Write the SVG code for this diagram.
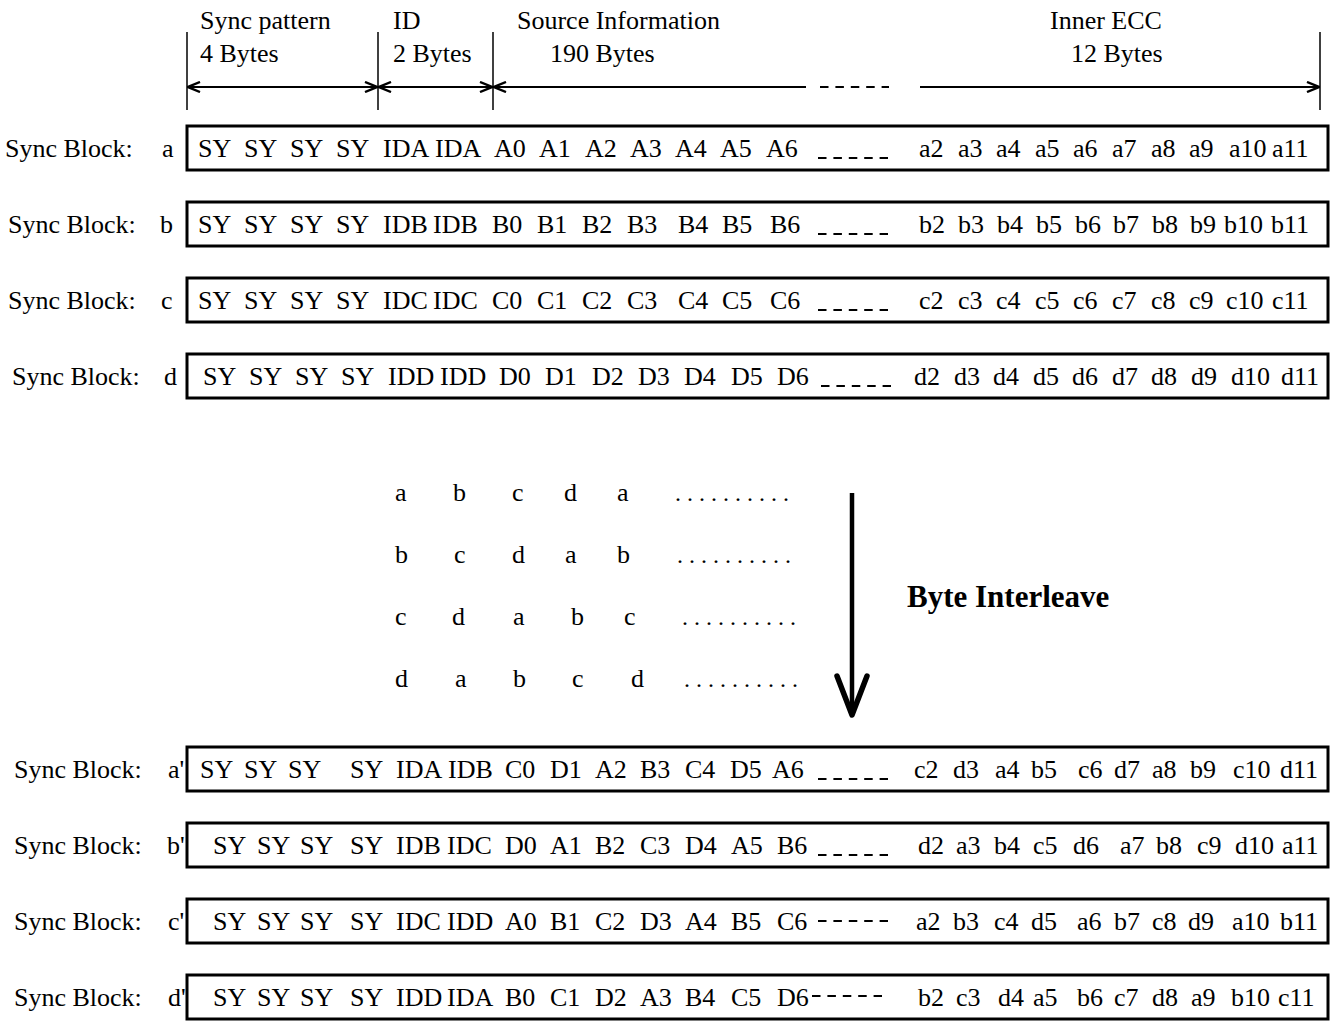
<svg xmlns="http://www.w3.org/2000/svg" width="1334" height="1021" viewBox="0 0 1334 1021">
<style>
.t{font-family:"Liberation Serif","Times New Roman",serif;font-size:26px;fill:#000}
.b{font-family:"Liberation Serif","Times New Roman",serif;font-size:31px;font-weight:bold;fill:#000}
.box{fill:#fff;stroke:#000;stroke-width:3}
.ln{stroke:#000;stroke-width:1.8;fill:none}
.tick{stroke:#000;stroke-width:1.5;fill:none}
.dsh{stroke:#000;stroke-width:2;fill:none;stroke-dasharray:8.5 6.9}
.dot{font-size:24px}
</style>
<defs>
<marker id="ah" viewBox="0 0 14 12" refX="13" refY="6" markerWidth="14" markerHeight="12" markerUnits="userSpaceOnUse" orient="auto-start-reverse">
<path d="M1,1 L13,6 L1,11" fill="none" stroke="#000" stroke-width="2.4"/>
</marker>
</defs>
<rect width="1334" height="1021" fill="#fff"/>

<g id="header">
<text class="t" x="200" y="29">Sync pattern</text>
<text class="t" x="200" y="62">4 Bytes</text>
<text class="t" x="393" y="29">ID</text>
<text class="t" x="393" y="62">2 Bytes</text>
<text class="t" x="517" y="29">Source Information</text>
<text class="t" x="550" y="62">190 Bytes</text>
<text class="t" x="1050" y="29">Inner ECC</text>
<text class="t" x="1071" y="62">12 Bytes</text>
</g>

<g id="connectors">
<line class="tick" x1="187" y1="32" x2="187" y2="110"/>
<line class="tick" x1="378" y1="32" x2="378" y2="110"/>
<line class="tick" x1="493" y1="32" x2="493" y2="110"/>
<line class="tick" x1="1320" y1="32" x2="1320" y2="110"/>
<line class="ln" x1="188" y1="87" x2="377" y2="87" marker-start="url(#ah)" marker-end="url(#ah)"/>
<line class="ln" x1="379" y1="87" x2="492" y2="87" marker-start="url(#ah)" marker-end="url(#ah)"/>
<line class="ln" x1="494" y1="87" x2="806" y2="87" marker-start="url(#ah)"/>
<line class="dsh" x1="820" y1="87" x2="889" y2="87"/>
<line class="ln" x1="920" y1="87" x2="1319" y2="87" marker-end="url(#ah)"/>
<line x1="852" y1="493" x2="852" y2="712" stroke="#000" stroke-width="4.5"/>
<polyline points="837,676 852,715 867,676" fill="none" stroke="#000" stroke-width="5.5" stroke-linejoin="round" stroke-linecap="round"/>
</g>

<g id="block-a">
<rect class="box" x="187" y="126" width="1141" height="44"/>
<text class="t" x="5" y="156.5">Sync Block:</text>
<text class="t" x="162" y="156.5">a</text>
<text class="t" y="156.5"><tspan x="198">SY</tspan><tspan x="244">SY</tspan><tspan x="290">SY</tspan><tspan x="336">SY</tspan><tspan x="383">IDA</tspan><tspan x="435">IDA</tspan><tspan x="494">A0</tspan><tspan x="539">A1</tspan><tspan x="585">A2</tspan><tspan x="630">A3</tspan><tspan x="675">A4</tspan><tspan x="720">A5</tspan><tspan x="766">A6</tspan><tspan x="919">a2</tspan><tspan x="958">a3</tspan><tspan x="996">a4</tspan><tspan x="1035">a5</tspan><tspan x="1073">a6</tspan><tspan x="1112">a7</tspan><tspan x="1151">a8</tspan><tspan x="1189">a9</tspan><tspan x="1229">a10</tspan><tspan x="1272">a11</tspan></text>
<line class="dsh" x1="818" y1="158" x2="888" y2="158"/>
</g>

<g id="block-b">
<rect class="box" x="187" y="202" width="1141" height="44"/>
<text class="t" x="8" y="232.5">Sync Block:</text>
<text class="t" x="160" y="232.5">b</text>
<text class="t" y="232.5"><tspan x="198">SY</tspan><tspan x="244">SY</tspan><tspan x="290">SY</tspan><tspan x="336">SY</tspan><tspan x="383">IDB</tspan><tspan x="433">IDB</tspan><tspan x="492">B0</tspan><tspan x="537">B1</tspan><tspan x="582">B2</tspan><tspan x="627">B3</tspan><tspan x="678">B4</tspan><tspan x="722">B5</tspan><tspan x="770">B6</tspan><tspan x="919">b2</tspan><tspan x="958">b3</tspan><tspan x="997">b4</tspan><tspan x="1036">b5</tspan><tspan x="1075">b6</tspan><tspan x="1113">b7</tspan><tspan x="1152">b8</tspan><tspan x="1190">b9</tspan><tspan x="1224">b10</tspan><tspan x="1271">b11</tspan></text>
<line class="dsh" x1="818" y1="234" x2="888" y2="234"/>
</g>

<g id="block-c">
<rect class="box" x="187" y="278" width="1141" height="44"/>
<text class="t" x="8" y="308.5">Sync Block:</text>
<text class="t" x="161" y="308.5">c</text>
<text class="t" y="308.5"><tspan x="198">SY</tspan><tspan x="244">SY</tspan><tspan x="290">SY</tspan><tspan x="336">SY</tspan><tspan x="383">IDC</tspan><tspan x="433">IDC</tspan><tspan x="492">C0</tspan><tspan x="537">C1</tspan><tspan x="582">C2</tspan><tspan x="627">C3</tspan><tspan x="678">C4</tspan><tspan x="722">C5</tspan><tspan x="770">C6</tspan><tspan x="919">c2</tspan><tspan x="958">c3</tspan><tspan x="996">c4</tspan><tspan x="1035">c5</tspan><tspan x="1073">c6</tspan><tspan x="1112">c7</tspan><tspan x="1151">c8</tspan><tspan x="1189">c9</tspan><tspan x="1226">c10</tspan><tspan x="1272">c11</tspan></text>
<line class="dsh" x1="818" y1="310" x2="888" y2="310"/>
</g>

<g id="block-d">
<rect class="box" x="187" y="354" width="1141" height="44"/>
<text class="t" x="12" y="384.5">Sync Block:</text>
<text class="t" x="164" y="384.5">d</text>
<text class="t" y="384.5"><tspan x="203">SY</tspan><tspan x="249">SY</tspan><tspan x="295">SY</tspan><tspan x="341">SY</tspan><tspan x="388">IDD</tspan><tspan x="440">IDD</tspan><tspan x="499">D0</tspan><tspan x="545">D1</tspan><tspan x="592">D2</tspan><tspan x="638">D3</tspan><tspan x="684">D4</tspan><tspan x="731">D5</tspan><tspan x="777">D6</tspan><tspan x="914">d2</tspan><tspan x="954">d3</tspan><tspan x="993">d4</tspan><tspan x="1033">d5</tspan><tspan x="1072">d6</tspan><tspan x="1112">d7</tspan><tspan x="1151">d8</tspan><tspan x="1191">d9</tspan><tspan x="1231">d10</tspan><tspan x="1281">d11</tspan></text>
<line class="dsh" x1="821" y1="386" x2="891" y2="386"/>
</g>

<g id="interleave-pattern">
<text class="t" y="501"><tspan x="395">a</tspan><tspan x="453">b</tspan><tspan x="512">c</tspan><tspan x="564">d</tspan><tspan x="617">a</tspan></text>
<text class="t" y="563"><tspan x="395">b</tspan><tspan x="454">c</tspan><tspan x="512">d</tspan><tspan x="565">a</tspan><tspan x="617">b</tspan></text>
<text class="t" y="625"><tspan x="395">c</tspan><tspan x="452">d</tspan><tspan x="513">a</tspan><tspan x="571">b</tspan><tspan x="624">c</tspan></text>
<text class="t" y="687"><tspan x="395">d</tspan><tspan x="455">a</tspan><tspan x="513">b</tspan><tspan x="572">c</tspan><tspan x="631">d</tspan></text>
<text class="t dot" x="675" y="501">. . . . . . . . . .</text>
<text class="t dot" x="677" y="563">. . . . . . . . . .</text>
<text class="t dot" x="682" y="625">. . . . . . . . . .</text>
<text class="t dot" x="684" y="687">. . . . . . . . . .</text>
</g>

<g id="label-byte-interleave">
<text class="b" x="907" y="607">Byte Interleave</text>
</g>

<g id="block-a-prime">
<rect class="box" x="187" y="747" width="1141" height="44"/>
<text class="t" x="14" y="777.5">Sync Block:</text>
<text class="t" x="168" y="777.5">a'</text>
<text class="t" y="777.5"><tspan x="200">SY</tspan><tspan x="244">SY</tspan><tspan x="288">SY</tspan><tspan x="350">SY</tspan><tspan x="396">IDA</tspan><tspan x="448">IDB</tspan><tspan x="505">C0</tspan><tspan x="550">D1</tspan><tspan x="595">A2</tspan><tspan x="640">B3</tspan><tspan x="685">C4</tspan><tspan x="730">D5</tspan><tspan x="772">A6</tspan><tspan x="914">c2</tspan><tspan x="953">d3</tspan><tspan x="995">a4</tspan><tspan x="1031">b5</tspan><tspan x="1078">c6</tspan><tspan x="1114">d7</tspan><tspan x="1152">a8</tspan><tspan x="1190">b9</tspan><tspan x="1233">c10</tspan><tspan x="1280">d11</tspan></text>
<line class="dsh" x1="818" y1="779" x2="888" y2="779"/>
</g>

<g id="block-b-prime">
<rect class="box" x="187" y="823" width="1141" height="44"/>
<text class="t" x="14" y="853.5">Sync Block:</text>
<text class="t" x="167" y="853.5">b'</text>
<text class="t" y="853.5"><tspan x="213">SY</tspan><tspan x="257">SY</tspan><tspan x="300">SY</tspan><tspan x="350">SY</tspan><tspan x="396">IDB</tspan><tspan x="447">IDC</tspan><tspan x="505">D0</tspan><tspan x="550">A1</tspan><tspan x="595">B2</tspan><tspan x="640">C3</tspan><tspan x="685">D4</tspan><tspan x="731">A5</tspan><tspan x="777">B6</tspan><tspan x="918">d2</tspan><tspan x="956">a3</tspan><tspan x="994">b4</tspan><tspan x="1033">c5</tspan><tspan x="1073">d6</tspan><tspan x="1120">a7</tspan><tspan x="1156">b8</tspan><tspan x="1197">c9</tspan><tspan x="1235">d10</tspan><tspan x="1282">a11</tspan></text>
<line class="dsh" x1="818" y1="855" x2="888" y2="855"/>
</g>

<g id="block-c-prime">
<rect class="box" x="187" y="899" width="1141" height="44"/>
<text class="t" x="14" y="929.5">Sync Block:</text>
<text class="t" x="168" y="929.5">c'</text>
<text class="t" y="929.5"><tspan x="213">SY</tspan><tspan x="257">SY</tspan><tspan x="300">SY</tspan><tspan x="350">SY</tspan><tspan x="396">IDC</tspan><tspan x="447">IDD</tspan><tspan x="505">A0</tspan><tspan x="550">B1</tspan><tspan x="595">C2</tspan><tspan x="640">D3</tspan><tspan x="685">A4</tspan><tspan x="731">B5</tspan><tspan x="777">C6</tspan><tspan x="916">a2</tspan><tspan x="953">b3</tspan><tspan x="994">c4</tspan><tspan x="1031">d5</tspan><tspan x="1077">a6</tspan><tspan x="1114">b7</tspan><tspan x="1152">c8</tspan><tspan x="1188">d9</tspan><tspan x="1232">a10</tspan><tspan x="1280">b11</tspan></text>
<line class="dsh" x1="818" y1="921" x2="888" y2="921"/>
</g>

<g id="block-d-prime">
<rect class="box" x="187" y="975" width="1141" height="44"/>
<text class="t" x="14" y="1005.5">Sync Block:</text>
<text class="t" x="168" y="1005.5">d'</text>
<text class="t" y="1005.5"><tspan x="213">SY</tspan><tspan x="257">SY</tspan><tspan x="300">SY</tspan><tspan x="350">SY</tspan><tspan x="396">IDD</tspan><tspan x="447">IDA</tspan><tspan x="505">B0</tspan><tspan x="550">C1</tspan><tspan x="595">D2</tspan><tspan x="640">A3</tspan><tspan x="685">B4</tspan><tspan x="731">C5</tspan><tspan x="777">D6</tspan><tspan x="918">b2</tspan><tspan x="956">c3</tspan><tspan x="998">d4</tspan><tspan x="1033">a5</tspan><tspan x="1077">b6</tspan><tspan x="1114">c7</tspan><tspan x="1152">d8</tspan><tspan x="1191">a9</tspan><tspan x="1231">b10</tspan><tspan x="1278">c11</tspan></text>
<line class="dsh" x1="812" y1="996" x2="882" y2="996"/>
</g>
</svg>
